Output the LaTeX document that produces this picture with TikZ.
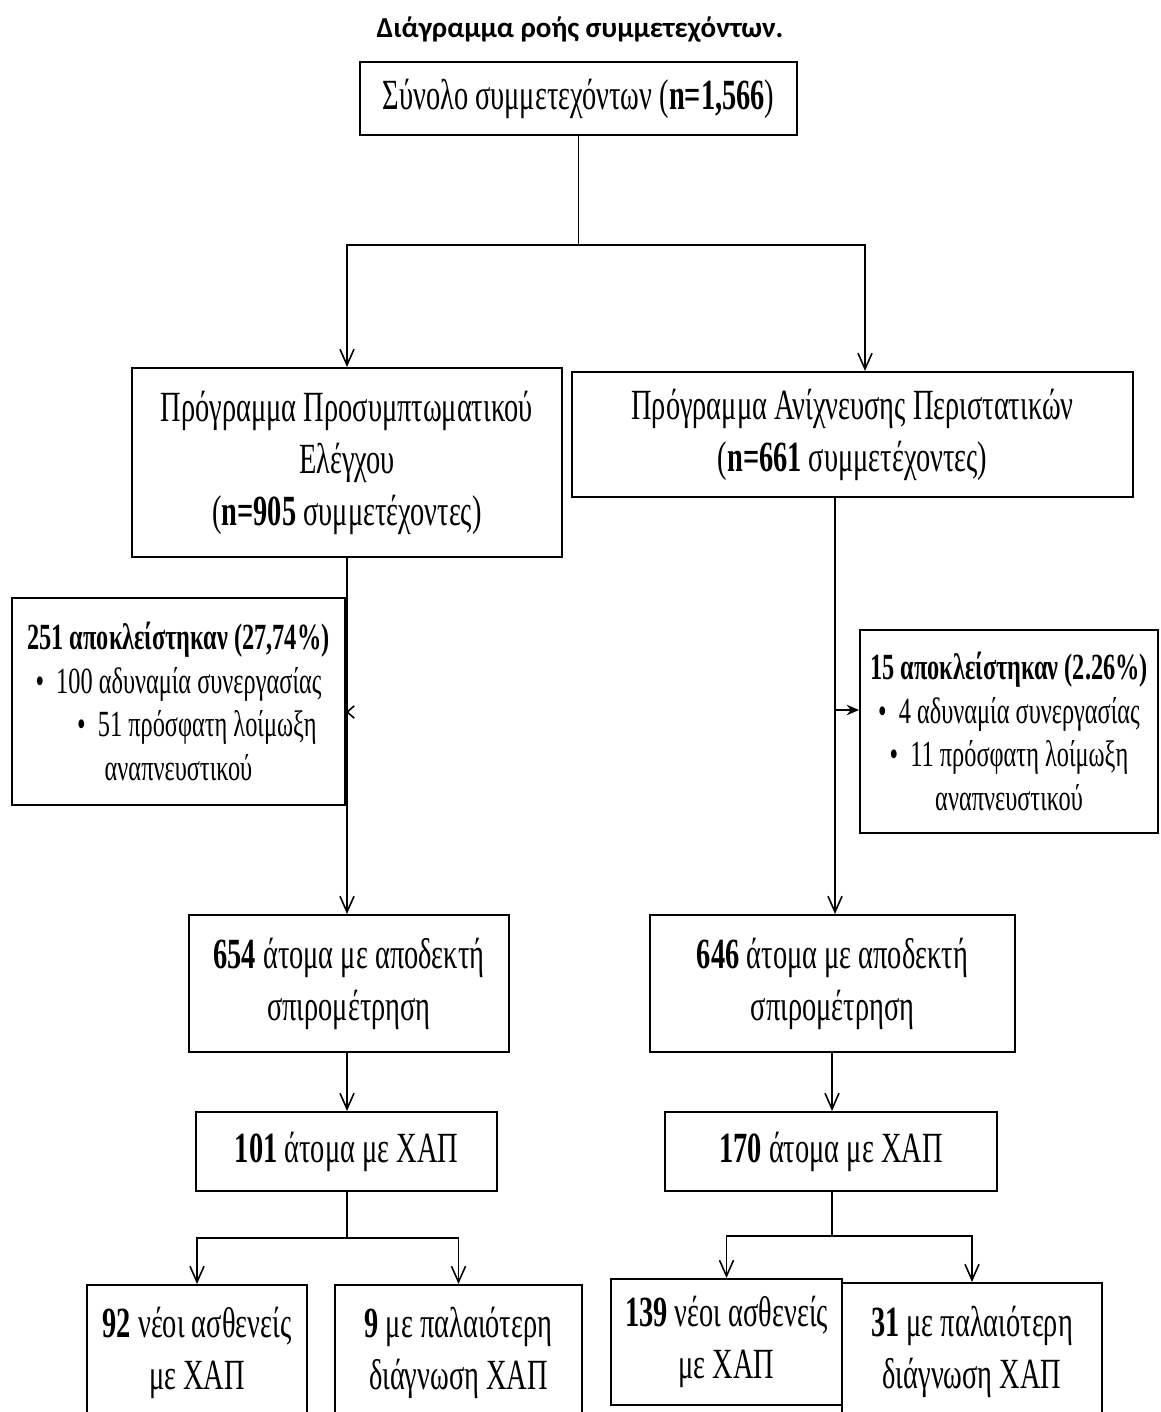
\documentclass[tikz,border=0pt]{standalone}
\usepackage{fontspec}
\setmainfont{Liberation Serif}
\newfontfamily\boxfont[FakeStretch=0.66]{Liberation Serif}
\newfontfamily\titlefont{Carlito}
\usepackage{tikz}
\usetikzlibrary{arrows.meta,positioning}
\tikzstyle{arrow} = [line width=0.9pt,-{Straight Barb[length=9pt,width=8pt]}]
\tikzstyle{line} = [line width=0.9pt]

\begin{document}
\begin{tikzpicture}[
    x=0.02cm, y=-0.02cm,
    every node/.style={font=\boxfont\fontsize{24.5}{29.6}\selectfont},
    box/.style={rectangle, draw=black, fill=white, line width=1.2pt, align=center, inner sep=2pt},
    exclbox/.style={box, font=\boxfont\fontsize{21}{25}\selectfont}
]
\useasboundingbox (0,0) rectangle (1160,1412);

% Title
\node[font=\titlefont\bfseries\fontsize{16.5}{20}\selectfont] (title) at (580,30) {Διάγραμμα ροής συμμετεχόντων.};

% Total
\node[box, minimum width=8.74cm, minimum height=1.46cm] (total) at (578.5,98.5) {Σύνολο συμμετεχόντων (\textbf{n=1,566})};

% Programmes
\node[box, minimum width=8.6cm, minimum height=3.78cm] (screen) at (347,462.5) {Πρόγραμμα Προσυμπτωματικού\\Ελέγχου\\(\textbf{n=905} συμμετέχοντες)};
\node[box, minimum width=11.22cm, minimum height=2.5cm] (case) at (852.5,434.5) {Πρόγραμμα Ανίχνευσης Περιστατικών\\(\textbf{n=661} συμμετέχοντες)};

% Exclusions
\node[exclbox, minimum width=6.66cm, minimum height=4.14cm] (exclA) at (178.5,701.5) {\textbf{251 αποκλείστηκαν (27,74\%)}\\• \ 100 αδυναμία συνεργασίας\\\quad • \ 51 πρόσφατη λοίμωξη\\αναπνευστικού};
\node[exclbox, minimum width=5.96cm, minimum height=4.06cm] (exclB) at (1009,731.5) {\textbf{15 αποκλείστηκαν (2.26\%)}\\• \ 4 αδυναμία συνεργασίας\\• \ 11 πρόσφατη λοίμωξη\\αναπνευστικού};

% Spirometry
\node[box, minimum width=6.4cm, minimum height=2.74cm] (spiroA) at (349,983.5) {\textbf{654} άτομα με αποδεκτή\\σπιρομέτρηση};
\node[box, minimum width=7.3cm, minimum height=2.74cm] (spiroB) at (832.5,983.5) {\textbf{646} άτομα με αποδεκτή\\σπιρομέτρηση};

% COPD
\node[box, minimum width=6.02cm, minimum height=1.58cm] (copdA) at (346.5,1151.5) {\textbf{101} άτομα με ΧΑΠ};
\node[box, minimum width=6.64cm, minimum height=1.58cm] (copdB) at (831,1151.5) {\textbf{170} άτομα με ΧΑΠ};

% New / previous diagnosis
\node[box, minimum width=4.4cm, minimum height=2.7cm] (newA) at (197,1352.5) {\textbf{92} νέοι ασθενείς\\με ΧΑΠ};
\node[box, minimum width=4.94cm, minimum height=2.7cm] (oldA) at (458.5,1352.5) {\textbf{9} με παλαιότερη\\διάγνωση ΧΑΠ};
\node[box, minimum width=5.2cm, minimum height=2.74cm] (oldB) at (972,1351.5) {\textbf{31} με παλαιότερη\\διάγνωση ΧΑΠ};
\node[box, minimum width=4.62cm, minimum height=2.52cm] (newB) at (726.5,1342) {\textbf{139} νέοι ασθενείς\\με ΧΑΠ};

% Split points
\coordinate (s1) at (578.5,245);
\coordinate (jA) at (348,712);
\coordinate (jB) at (835,710);
\coordinate (kA) at (347,1238);
\coordinate (kB) at (832,1236);

% Arrows
\draw[line] (total) -- (s1);
\draw[arrow] (s1) -| (screen.north);
\draw[arrow] (s1) -| ([xshift=0.25cm]case.north);
\draw[arrow] (screen.south) -- (screen.south |- spiroA.north);
\draw[arrow] ([xshift=-0.35cm]case.south) -- ([xshift=-0.35cm]case.south |- spiroB.north);
\draw[line, -{Straight Barb[length=4pt,width=7pt]}] (jA) -- (jA -| exclA.east);
\draw[line, -{Stealth[length=7pt,width=6pt]}] (jB) -- (jB -| exclB.west);
\draw[arrow] (spiroA.south -| kA) -- (kA |- copdA.north);
\draw[arrow] (spiroB.south -| kB) -- (kB |- copdB.north);
\draw[line] (copdA.south -| kA) -- (kA);
\draw[arrow] (kA) -| (newA.north);
\draw[arrow] (kA) -| (oldA.north);
\draw[line] (copdB.south -| kB) -- (kB);
\draw[arrow] (kB) -| (newB.north);
\draw[arrow] (kB) -| (oldB.north);

\end{tikzpicture}
\end{document}
